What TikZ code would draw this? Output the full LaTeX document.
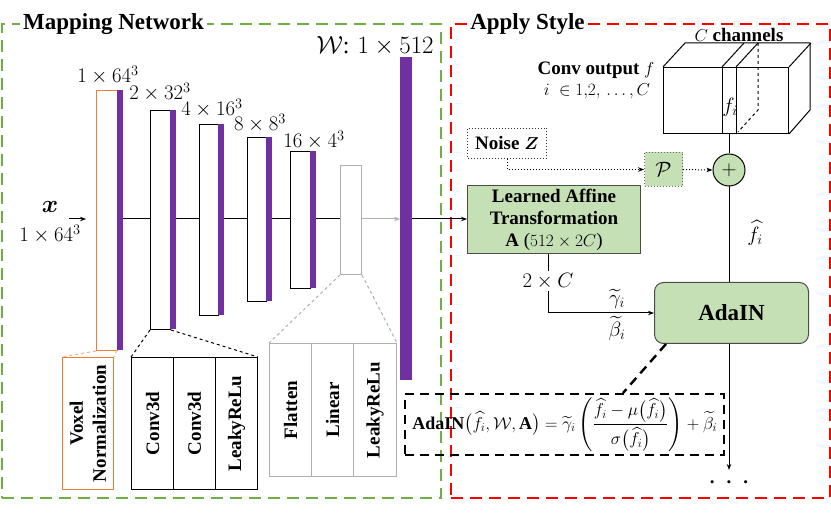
\documentclass[tikz,border=0pt]{standalone}
\usepackage{amsmath,amssymb,bm}
\usepackage{fontspec}
\setmainfont{Liberation Serif}
\usetikzlibrary{arrows.meta}
\definecolor{mpurple}{HTML}{7030A0}
\definecolor{morange}{HTML}{ED7D31}
\definecolor{lorange}{HTML}{F4B183}
\definecolor{dgreen}{HTML}{70AD47}
\definecolor{lgreen}{HTML}{C5E0B4}
\definecolor{mred}{HTML}{FF0000}
\definecolor{mgray}{HTML}{AFAFAF}
\begin{document}
\begin{tikzpicture}[x=1pt,y=-1pt,
  lay/.style={draw=black, line width=1pt, fill=white, inner sep=0pt, anchor=north west},
  bar/.style={fill=mpurple, draw=none, inner sep=0pt, anchor=north west, minimum width=5.5pt},
  cell/.style={draw=black, line width=1pt, inner sep=0pt, anchor=north west, minimum width=42pt, minimum height=132pt},
  celltext/.style={rotate=90, font=\fontsize{19}{23}\selectfont\bfseries, align=center, inner sep=0pt},
  dimlab/.style={font=\fontsize{21}{24}\selectfont, inner sep=0pt},
  title/.style={font=\fontsize{23}{26}\selectfont\bfseries, fill=white, inner sep=3pt, anchor=base},
  gbox/.style={fill=lgreen, draw=black!70, line width=1pt, inner sep=0pt, anchor=north west},
  conn/.style={draw=black, line width=1pt},
  arr/.style={draw=black, line width=1pt, -{Stealth[length=6pt,width=4.5pt]}},
  dotarr/.style={draw=black, line width=1pt, dotted, -{Stealth[length=6pt,width=4.5pt]}},
  thickdash/.style={draw=black, line width=2.4pt, dash pattern=on 9pt off 6pt},
  txt/.style={font=\fontsize{19}{23}\selectfont, inner sep=0pt}
]
\useasboundingbox (0,0) rectangle (831,513);

% outer dashed frames
\node[draw=dgreen, line width=1.8pt, dash pattern=on 12pt off 7pt, inner sep=0pt, anchor=north west,
      minimum width=439pt, minimum height=474pt] (mapbox) at (1,23) {};
\node[draw=mred, line width=1.8pt, dash pattern=on 12pt off 7pt, inner sep=0pt, anchor=north west,
      minimum width=379pt, minimum height=474pt] (stylebox) at (450,23) {};
\node[title] (maptitle) at (113.5,30) {Mapping Network};
\node[title] (styletitle) at (527.5,30) {Apply Style};

% mapping network layers
\node[lay, draw=morange, minimum width=21pt, minimum height=260pt] (l1) at (96,90) {};
\node[bar, minimum height=260pt] (p1) at (117,90) {};
\node[lay, minimum width=20pt, minimum height=219pt] (l2) at (150,110) {};
\node[bar, minimum height=219pt] (p2) at (170,110) {};
\node[lay, minimum width=19pt, minimum height=191pt] (l3) at (199,124) {};
\node[bar, minimum height=191pt] (p3) at (218,124) {};
\node[lay, minimum width=19pt, minimum height=164pt] (l4) at (247,137) {};
\node[bar, minimum height=164pt] (p4) at (266,137) {};
\node[lay, minimum width=20pt, minimum height=137pt] (l5) at (290,151) {};
\node[bar, minimum height=137pt] (p5) at (310,151) {};
\node[lay, draw=mgray, minimum width=21pt, minimum height=109pt] (l6) at (340,165) {};
\node[bar, minimum width=12pt, minimum height=323pt] (W) at (400,57) {};

% dimension labels
\node[dimlab] (d1) at (108,75) {$1\times 64^3$};
\node[dimlab] (d2) at (160,92) {$2\times 32^3$};
\node[dimlab] (d3) at (212,108) {$4\times 16^3$};
\node[dimlab] (d4) at (260,123) {$8\times 8^3$};
\node[dimlab] (d5) at (314,140) {$16\times 4^3$};
\node[dimlab, font=\fontsize{24}{27}\selectfont] (dW) at (375,46) {$\mathcal{W}$: $1\times 512$};

% input
\node[dimlab, font=\fontsize{23}{26}\selectfont] (xin) at (50,207) {$\bm{x}$};
\node[dimlab] (xdim) at (50,234) {$1\times 64^3$};
\coordinate (xa) at (69,219);
\coordinate (xb) at (86,219);
\draw[arr] (xa) -- (xb);

% forward line
\coordinate (h) at (0,219);
\draw[conn] (p1.east |- h) -- (l2.west |- h);
\draw[conn] (p2.east |- h) -- (l3.west |- h);
\draw[conn] (p3.east |- h) -- (l4.west |- h);
\draw[conn] (p4.east |- h) -- (l5.west |- h);
\draw[conn] (p5.east |- h) -- (l6.west |- h);
\draw[arr, draw=mgray] (l6.east |- h) -- (W.west |- h);

% detail boxes
\node[cell, draw=morange, minimum width=51pt] (vox) at (62,357) {};
\node[celltext] (voxt) at (vox.center) {Voxel\\Normalization};
\node[cell] (c1) at (131,357) {};
\node[cell] (c2) at (173,357) {};
\node[cell] (c3) at (215,357) {};
\node[celltext] (c1t) at (c1.center) {Conv3d};
\node[celltext] (c2t) at (c2.center) {Conv3d};
\node[celltext] (c3t) at (c3.center) {LeakyReLu};
\node[cell, draw=mgray, minimum height=133pt] (g1) at (269,343) {};
\node[cell, draw=mgray, minimum height=133pt] (g2) at (311,343) {};
\node[cell, draw=mgray, minimum height=133pt, minimum width=43pt] (g3) at (353,343) {};
\node[celltext] (g1t) at (g1.center) {Flatten};
\node[celltext] (g2t) at (g2.center) {Linear};
\node[celltext] (g3t) at (g3.center) {LeakyReLu};

\draw[draw=lorange, line width=1pt, dashed] (l1.south west) -- (vox.north west);
\draw[draw=lorange, line width=1pt, dashed] (p1.south west) -- (vox.north east);
\draw[conn, dashed] (l2.south west) -- (c1.north west);
\draw[conn, dashed] (l2.south east) -- (c3.north east);
\draw[draw=mgray, line width=1pt, dashed] (l6.south west) -- (g1.north west);
\draw[draw=mgray, line width=1pt, dashed] (l6.south east) -- (g3.north east);

% Apply style
\node[gbox, minimum width=173pt, minimum height=68pt] (aff) at (467,185) {};
\node[txt, align=center, font=\fontsize{19}{22}\selectfont\bfseries] (afft) at (aff.center)
  {Learned Affine\\Transformation\\A \mdseries($512\times 2C$)};
\draw[arr] (W.east |- h) -- (aff.west |- h);

\node[gbox, rounded corners=9pt, minimum width=154pt, minimum height=61pt] (ada) at (654,282) {};
\node[txt, font=\fontsize{23}{26}\selectfont\bfseries] (adat) at (ada.center) {AdaIN};

\draw[arr] ([xshift=-5.5pt]aff.south) |- (ada.west);
\node[dimlab, fill=white, inner sep=2pt] (twoC) at (548,281) {$2\times C$};
\node[dimlab, anchor=south] (gam) at (617,309) {$\widetilde{\gamma}_i$};
\node[dimlab, anchor=north] (bet) at (617,316) {$\widetilde{\beta}_i$};

% cube
\node[draw=black, line width=1pt, inner sep=0pt, anchor=north west, minimum width=125pt, minimum height=66pt] (cube) at (663,67) {};
\coordinate (s1) at ([xshift=59pt]cube.north west);
\coordinate (s2) at ([xshift=73pt]cube.north west);
\draw[conn, line join=round] (cube.north west) -- ++(22,-24) -- ++(125,0) -- ++(0,67) -- (cube.south east);
\draw[conn] (cube.north east) -- ++(22,-24);
\draw[conn] (s1) -- ++(0,66);
\draw[conn] (s2) -- ++(0,66);
\draw[conn] (s1) -- ++(22,-24);
\draw[conn] (s2) -- ++(22,-24);
\draw[conn, dashed] ([shift={(22,-24)}]s2) -- ++(0,67) -- ++(-20,22);
\node[dimlab] (fi) at (730,107) {$f_i$};
\node[txt, font=\fontsize{19}{22}\selectfont\bfseries] (cap) at (596,70) {Conv output \mdseries$f$};
\node[txt, font=\fontsize{18}{21}\selectfont] (irange) at (597,91) {$i\ \in 1{,}2{,}\,\dots,C$};
\node[txt, font=\fontsize{19}{22}\selectfont\bfseries] (chan) at (739,35) {\mdseries$C$ \bfseries channels};

% noise
\node[draw=black!80, line width=1pt, dotted, inner sep=0pt, anchor=north west, minimum width=79pt, minimum height=30pt] (noise) at (467,128) {};
\node[txt, font=\fontsize{19}{22}\selectfont\bfseries] (noiset) at (noise.center) {Noise $\bm{Z}$};
\node[fill=lgreen, draw=black!60, line width=1pt, dotted, inner sep=0pt, anchor=north west, minimum width=38pt, minimum height=34pt] (P) at (644,152) {};
\node[dimlab] (Pt) at (P.center) {$\mathcal{P}$};
\node[circle, fill=lgreen, draw=black, line width=1pt, minimum size=32pt, inner sep=0pt, font=\fontsize{21}{22}\selectfont] (plus) at (729,170) {$+$};
\draw[dotarr] (noise.south) |- (P.west);
\draw[dotarr] (P.east) -- (plus.west);
\draw[conn] (plus.north |- cube.south) -- (plus.north);
\draw[conn] (plus.south) -- (plus.south |- ada.north);
\node[dimlab] (fhat) at (755,233) {$\widehat{f}_i$};

% output
\coordinate (aend) at (729,470);
\draw[arr] (plus.south |- ada.south) -- (aend);
\node[txt, font=\fontsize{19}{22}\selectfont\bfseries, anchor=base] (dots) at (729,483) {.\hspace{12pt}.\hspace{12pt}.};

% formula
\node[thickdash, inner sep=0pt, anchor=north west, minimum width=319pt, minimum height=61pt] (form) at (404,393) {};
\node[txt, font=\fontsize{18}{21}\selectfont] (formt) at (form.center)
 {$\textbf{AdaIN}\big(\widehat{f}_i,\mathcal{W},\mathbf{A}\big)=\widetilde{\gamma}_i\left(\dfrac{\widehat{f}_i-\mu\big(\widehat{f}_i\big)}{\sigma\big(\widehat{f}_i\big)}\right)+\widetilde{\beta}_i$};
\draw[thickdash] ([xshift=12pt]ada.south west) -- ([xshift=219pt]form.north west);
\end{tikzpicture}
\end{document}
